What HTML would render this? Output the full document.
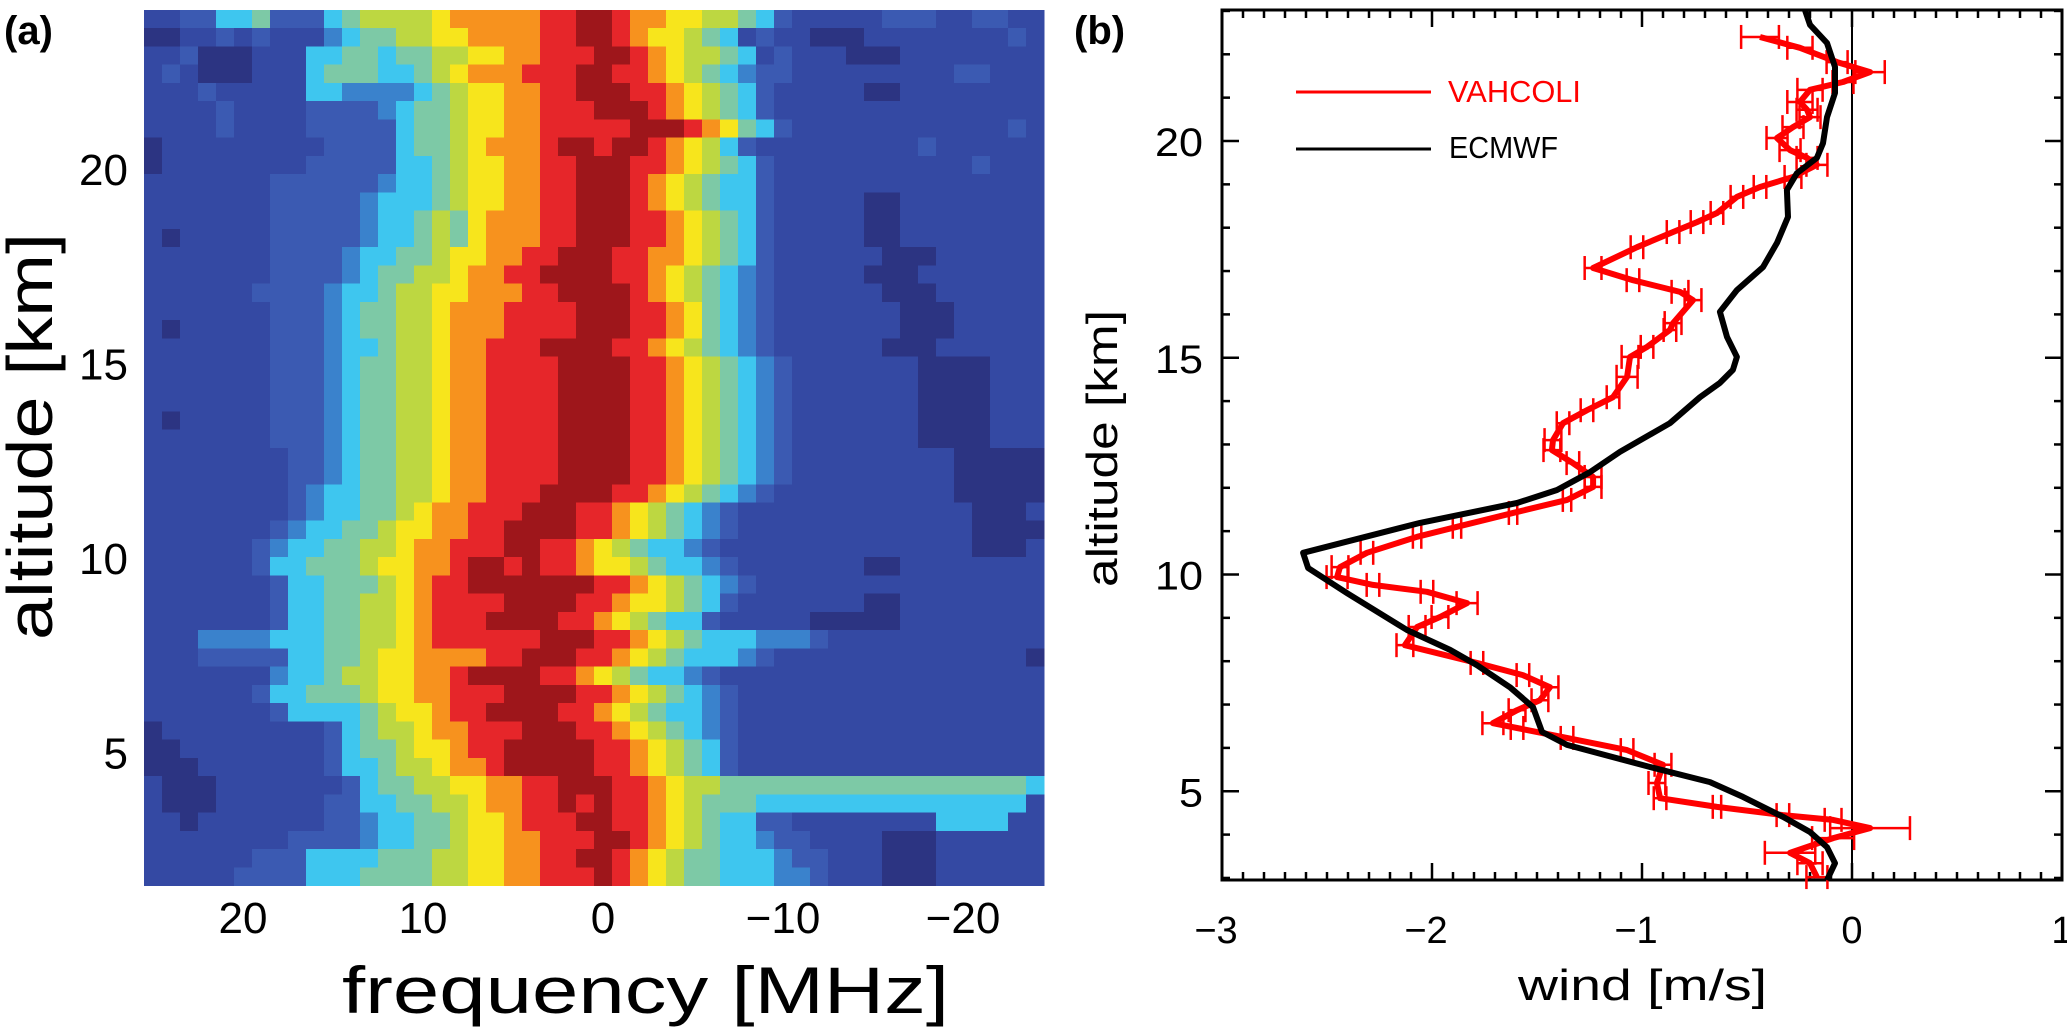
<!DOCTYPE html>
<html>
<head>
<meta charset="utf-8">
<style>
  html,body{margin:0;padding:0;background:#fff;}
  svg{display:block;}
  text{font-family:"Liberation Sans",sans-serif;}
</style>
</head>
<body>
<svg id="fig" xmlns="http://www.w3.org/2000/svg" width="2067" height="1031" viewBox="0 0 2067 1031">
  <rect x="0" y="0" width="2067" height="1031" fill="#fff"/>
  <g id="panelA">
    <g id="heat" shape-rendering="crispEdges"></g>
    <g id="axA"></g>
    <text x="4" y="44" font-size="40" font-weight="bold">(a)</text>
    <text x="0" y="0" font-size="64" textLength="407" lengthAdjust="spacingAndGlyphs" transform="translate(52,640) rotate(-90)">altitude [km]</text>
    <text x="342" y="1013" font-size="66" textLength="607" lengthAdjust="spacingAndGlyphs">frequency [MHz]</text>
  </g>
  <g id="panelB">
    <text x="1074" y="44" font-size="40" font-weight="bold">(b)</text>
    <g id="axB"></g>
    <g id="series"></g>
    <text x="0" y="0" font-size="44" textLength="277" lengthAdjust="spacingAndGlyphs" transform="translate(1117,587) rotate(-90)">altitude [km]</text>
    <text x="1518" y="1000" font-size="44" textLength="249" lengthAdjust="spacingAndGlyphs">wind [m/s]</text>
    <g>
      <line x1="1296" y1="92" x2="1431" y2="92" stroke="#ff0000" stroke-width="3"/>
      <text x="1448" y="102" font-size="31" fill="#ff0000" textLength="133" lengthAdjust="spacingAndGlyphs">VAHCOLI</text>
      <line x1="1296" y1="149" x2="1431" y2="149" stroke="#000" stroke-width="3"/>
      <text x="1449" y="158" font-size="31" fill="#000" textLength="109" lengthAdjust="spacingAndGlyphs">ECMWF</text>
    </g>
  </g>
</svg>
<script>
// ---------------- Panel (a) data ----------------
const heatFreqStart = 25.5;   // MHz at left edge of column 0
const heatFreqStep = 1;       // MHz per column
const heatAltTop = 24.09;     // km at top edge of row 0
const heatAltStep = 0.469;    // km per row
const heatLevels = "0123456789a";
const heatRows = [
"11224452224566667888889"+"9aa98877665421111122211221",
"0011212111345566778888"+"99aa98776541"+"21100011111111211",
"1120001114455455667788999aa98766541"+"21110001111111111",
"121000111455544567888999aa998765432211111111122111",
"111211111443333456778899aaa9987654"+"2111110011111111",
"1111211112222345567788999aaa98765"+"42111111111111111",
"111121111222224556778899999aaa98754"+"2111111111111211",
"01111111112222455678889aa9aa98764"+"21111111112111111",
"011111111222224456778899aaa998765"+"421111111111121111",
"111111122222234456778899aaa987654421111111111111111",
"111111122222344456778899aaa98765442111110011111111",
"111111122222344565788899aaa9987654"+"21111100111111111",
"101111122222344565788899aaa9987654"+"21111100111111111",
"11111112222344556778899aaa998876542111111000111111",
"1111111222234556678899aaaa99876543211111000111111",
"11111122223445667788899aaaa98765432111111000111111",
"111111122234556678889999aaa998754321111111000111111",
"101111122234556678889999aaa998754321111111000111111",
"1111111222344566788999aaaa9987654321111110001111111",
"11111112223455667889999aaaa99876543211111110000111",
"11111112223455667889999aaaa99876543211111110000111",
"11111112223455667889999aaaa99876543211111110000111",
"10111112223455667889999aaaa99876543211111110000111",
"11111112223455667889999aaaa99876543211111110000111",
"11111111223455667889999aaaa99876543211111111100000",
"11111111223455667889999aaaa99876543211111111100000",
"1111111123445566788999aaaa998765432111111111100000",
"111111112344556788999aaa9987654321111111111111000",
"11111112344556778899aaaa99876543211111111111110000",
"11111123445566788999aa998765443211111111111111000",
"111111244555677889aa9a998776544321111111001111111",
"111111124455567899aaaaaaa998765432111111111111111",
"11111112445566789999aaaa998776542111111100111111",
"1111111244556678999aaaa998765442111110000011111",
"1113333444556678999999aaa9987654443332111111111111",
"111222224455677888899aaa99876544432111111111111110",
"111111134456677889aaaa998765443211111111111111111",
"11111124455567788999aaaa99876543211111111111111111",
"1111111244445677899aaaa99876544321111111111111111",
"011111111124566788999aaa9987654321111111111111111",
"00111111112455677899aaaaa99876542111111111111111",
"00011111112445667889aaaaa998765421111111111111111",
"10001111111245566778899aaa9987665555555555555555541",
"10001111112244556678899a9a9987655544444444444444411",
"110111111122344556778999aa99876544221111111144441",
"1111111122223445567788999aa9876544322111100011111",
"111111222444455566778899aa98765544432211100011111",
"1111122224445555667788999a987655444332111000111111"
];
const heatColors = ["#2c3482","#3449a3","#3b5ab2","#3a82cc","#3ec6ef","#7dc9a6","#bdd741","#f7e51c","#f7921e","#e6262a","#9e161b"];

// ---------------- Panel (b) data ----------------
const ecmwfAlt  = [23.02,22.68,22.26,21.71,21.11,20.55,19.95,19.61,19.26,18.87,18.25,17.65,17.09,16.56,16.06,15.48,15.02,14.72,14.42,14.09,13.49,12.83,12.36,11.95,11.65,11.19,10.50,10.15,9.57,8.72,8.26,7.91,7.40,6.94,6.37,6.07,5.56,5.21,4.87,4.41,4.06,3.71,3.34,2.95];
const ecmwfWind = [-0.224,-0.200,-0.119,-0.081,-0.081,-0.119,-0.138,-0.167,-0.262,-0.310,-0.305,-0.357,-0.424,-0.548,-0.629,-0.595,-0.548,-0.567,-0.629,-0.724,-0.867,-1.105,-1.248,-1.405,-1.595,-2.057,-2.614,-2.590,-2.405,-2.119,-1.914,-1.786,-1.629,-1.519,-1.476,-1.357,-0.962,-0.676,-0.519,-0.329,-0.200,-0.119,-0.081,-0.119];

const vahAlt  = [22.40,22.15,21.82,21.59,21.36,21.18,20.90,20.72,20.55,20.32,20.07,19.79,19.61,19.45,19.17,18.94,18.71,18.34,18.13,17.90,17.55,17.07,16.79,16.52,16.33,15.80,15.64,15.25,15.02,14.56,14.09,13.79,13.49,13.10,12.87,12.57,12.25,12.02,11.72,11.42,11.10,10.87,10.50,10.17,9.94,9.76,9.60,9.34,9.02,8.79,8.37,7.96,7.68,7.40,7.10,6.87,6.57,6.46,6.23,5.95,5.61,5.19,4.84,4.64,4.45,4.34,4.15,3.92,3.58,3.34,3.02];
const vahWind = [-0.438,-0.248,-0.071,0.086,-0.043,-0.200,-0.248,-0.214,-0.200,-0.281,-0.357,-0.295,-0.214,-0.167,-0.281,-0.438,-0.548,-0.643,-0.738,-0.852,-1.024,-1.233,-1.043,-0.819,-0.757,-0.852,-0.867,-0.976,-1.057,-1.071,-1.138,-1.262,-1.376,-1.424,-1.429,-1.329,-1.233,-1.233,-1.357,-1.614,-1.881,-2.071,-2.310,-2.438,-2.452,-2.281,-2.024,-1.833,-1.962,-2.071,-2.129,-1.786,-1.567,-1.438,-1.486,-1.595,-1.710,-1.595,-1.357,-1.071,-0.900,-0.929,-0.914,-0.643,-0.329,-0.090,0.086,-0.090,-0.295,-0.200,-0.167];
const vahErr  = [0.09,0.06,0.05,0.07,0.05,0.06,0.06,0.05,0.05,0.05,0.05,0.05,0.05,0.05,0.04,0.03,0.03,0.03,0.03,0.03,0.03,0.04,0.03,0.04,0.04,0.04,0.03,0.03,0.04,0.05,0.03,0.03,0.03,0.04,0.04,0.03,0.04,0.04,0.02,0.02,0.02,0.02,0.03,0.04,0.05,0.03,0.03,0.05,0.04,0.04,0.04,0.03,0.03,0.04,0.04,0.04,0.05,0.03,0.03,0.03,0.04,0.04,0.03,0.02,0.03,0.04,0.19,0.10,0.12,0.06,0.05];

const xTickValsB = [-3,-2,-1,0,1];
const xTickLabelsB = ["\u22123","\u22122","\u22121","0","1"];
const yTickValsB = [5,10,15,20];
const yTickLabelsB = ["5","10","15","20"];
const xTickValsA = [20,10,0,-10,-20];
const xTickLabelsA = ["20","10","0","\u221210","\u221220"];
const yTickValsA = [5,10,15,20];
const yTickLabelsA = ["5","10","15","20"];

// ---------------- scales ----------------
const NS = "http://www.w3.org/2000/svg";
function xA(f){ return 603 - 18*f; }
function yA(a){ return 169 + (20 - a)*38.9; }
function xB(w){ return 1852 + 210*w; }
function yB(a){ return 141 + (20 - a)*43.35; }
const B = {l:1222, r:2062, t:10, b:880};

function mk(tag, attrs, parent){
  const e = document.createElementNS(NS, tag);
  for (const k in attrs) e.setAttribute(k, attrs[k]);
  parent.appendChild(e);
  return e;
}

// ---------------- heatmap ----------------
const heat = document.getElementById("heat");
heatRows.forEach(function(rowStr, r){
  let s = (rowStr + "11111111111111111111111111111111111111111111111111").slice(0,50);
  const aTop = heatAltTop - r*heatAltStep;
  const aBot = aTop - heatAltStep;
  const y0 = yA(aTop), y1 = yA(aBot);
  for (let c = 0; c < 50; c++){
    const lvl = heatLevels.indexOf(s[c]);
    const f0 = heatFreqStart - c*heatFreqStep;
    const f1 = f0 - heatFreqStep;
    const x0 = xA(f0), x1 = xA(f1);
    const rc = mk("rect", {x:x0.toFixed(2), y:y0.toFixed(2), width:(x1-x0+0.6).toFixed(2), height:(y1-y0+0.6).toFixed(2), fill:heatColors[lvl<0?1:lvl]}, heat);
    
    
  }
});

// panel a ticks
const axA = document.getElementById("axA");
xTickValsA.forEach(function(v,i){
  const t = mk("text", {x:xA(v), y:933, "font-size":44, "text-anchor":"middle"}, axA);
  t.textContent = xTickLabelsA[i];
  
  
});
yTickValsA.forEach(function(v,i){
  const t = mk("text", {x:128, y:yA(v)+16, "font-size":44, "text-anchor":"end"}, axA);
  t.textContent = yTickLabelsA[i];
  
  
});

// ---------------- panel b axes ----------------
const axB = document.getElementById("axB");
const frame = mk("rect", {x:B.l, y:B.t, width:B.r-B.l, height:B.b-B.t, fill:"none", stroke:"#000", "stroke-width":3}, axB);


const zl = mk("line", {x1:xB(0), y1:B.t, x2:xB(0), y2:B.b, stroke:"#000", "stroke-width":2}, axB);


for (let k = -30; k <= 10; k++){
  const v = k/10, x = xB(v);
  const major = (k % 10 === 0);
  const len = major ? 17 : 8;
  const t1 = mk("line", {x1:x, y1:B.b, x2:x, y2:B.b-len, stroke:"#000", "stroke-width":2.5}, axB);
  
  
  const t2 = mk("line", {x1:x, y1:B.t, x2:x, y2:B.t+len, stroke:"#000", "stroke-width":2.5}, axB);
  
  
}
for (let a = 3; a <= 23; a++){
  const y = yB(a);
  const major = (a % 5 === 0);
  const len = major ? 17 : 8;
  const t1 = mk("line", {x1:B.l, y1:y, x2:B.l+len, y2:y, stroke:"#000", "stroke-width":2.5}, axB);
  
  
  const t2 = mk("line", {x1:B.r, y1:y, x2:B.r-len, y2:y, stroke:"#000", "stroke-width":2.5}, axB);
  
  
}
xTickValsB.forEach(function(v,i){
  const t = mk("text", {x:xB(v)+(v<0?-6:0), y:943, "font-size":38, "text-anchor":"middle"}, axB);
  t.textContent = xTickLabelsB[i];
  
  
});
yTickValsB.forEach(function(v,i){
  const t = mk("text", {x:1203, y:yB(v)+15, "font-size":40, "text-anchor":"end", textLength:(yTickLabelsB[i].length*24), lengthAdjust:"spacingAndGlyphs"}, axB);
  t.textContent = yTickLabelsB[i];
  
  
});

// ---------------- series ----------------
const series = document.getElementById("series");
const errG = mk("g", {stroke:"#ff0000", "stroke-width":2.5}, series);


for (let i = 0; i < vahAlt.length; i++){
  const y = yB(vahAlt[i]);
  const xl = xB(vahWind[i]-vahErr[i]), xr = xB(vahWind[i]+vahErr[i]);
  const h = mk("line", {x1:xl, y1:y, x2:xr, y2:y}, errG);
  
  
  const c1 = mk("line", {x1:xl, y1:y-12, x2:xl, y2:y+12}, errG);
  
  
  const c2 = mk("line", {x1:xr, y1:y-12, x2:xr, y2:y+12}, errG);
  
  
}
let dV = "";
for (let i = 0; i < vahAlt.length; i++) dV += (i?"L":"M") + xB(vahWind[i]).toFixed(1) + "," + yB(vahAlt[i]).toFixed(1);
const vLine = mk("path", {d:dV, fill:"none", stroke:"#ff0000", "stroke-width":6, "stroke-linejoin":"round"}, series);


let dE = "";
for (let i = 0; i < ecmwfAlt.length; i++) dE += (i?"L":"M") + xB(ecmwfWind[i]).toFixed(1) + "," + yB(ecmwfAlt[i]).toFixed(1);
const eLine = mk("path", {d:dE, fill:"none", stroke:"#000", "stroke-width":6, "stroke-linejoin":"round"}, series);


</script>
</body>
</html>
